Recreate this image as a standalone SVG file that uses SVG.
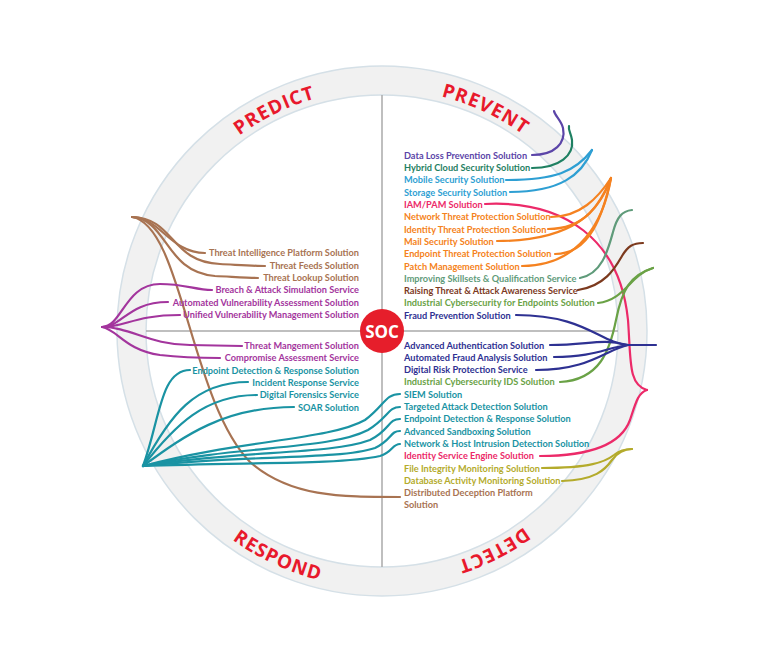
<svg xmlns="http://www.w3.org/2000/svg" width="768" height="648" viewBox="0 0 768 648">
<defs>
<style>
.lbl{font-family:Lato,"Open Sans","Liberation Sans",sans-serif;font-weight:700;font-size:9.2px}
.ph{font-family:"Open Sans","Liberation Sans",sans-serif;font-weight:700;font-size:19px;fill:#e8192c;letter-spacing:1px}
.c path{fill:none;stroke-width:2.2;stroke-linecap:round}
.br{fill:#a87352}.pu{fill:#a3359d}.te{fill:#1a93a3}.in{fill:#5b45a8}.dg{fill:#1f8062}.bl{fill:#2e9fd3}
.pk{fill:#ec2a69}.or{fill:#f58220}.sg{fill:#5f9b7a}.db{fill:#7c3a1e}.gr{fill:#6aa246}.nv{fill:#2e3192}.ol{fill:#b4ab2c}
.sbr{stroke:#a87352}.spu{stroke:#a3359d}.ste{stroke:#1a93a3}.sin{stroke:#5b45a8}.sdg{stroke:#1f8062}.sbl{stroke:#2e9fd3}
.spk{stroke:#ec2a69}.sor{stroke:#f58220}.ssg{stroke:#5f9b7a}.sdb{stroke:#7c3a1e}.sgr{stroke:#6aa246}.snv{stroke:#2e3192}.sol{stroke:#b4ab2c}
</style>
<path id="pPredict" d="M181.4,195.7 A242,242 0 0 1 398.9,89.6"/>
<path id="pPrevent" d="M360.9,89.9 A242,242 0 0 1 580.2,192.2"/>
<path id="pDetect" d="M585.0,462.8 A242,242 0 0 1 369.3,572.7"/>
<path id="pRespond" d="M172.0,479.1 A257,257 0 0 0 405.3,586.9"/>
</defs>
<rect width="768" height="648" fill="#ffffff"/>
<g id="ring">
<circle cx="382" cy="331" r="250.5" fill="none" stroke="#f1f1f1" stroke-width="29"/>
<circle cx="382" cy="331" r="265" fill="none" stroke="#d5e0e7" stroke-width="1.5"/>
<circle cx="382" cy="331" r="236" fill="none" stroke="#d5e0e7" stroke-width="1.5"/>
<line x1="382" y1="95" x2="382" y2="567" stroke="#aaaaaa" stroke-width="1.5"/>
<line x1="146" y1="331" x2="618" y2="331" stroke="#aaaaaa" stroke-width="1.5"/>
</g>
<g id="phases">
<text class="ph"><textPath href="#pPredict" startOffset="50%" text-anchor="middle">PREDICT</textPath></text>
<text class="ph"><textPath href="#pPrevent" startOffset="50%" text-anchor="middle">PREVENT</textPath></text>
<text class="ph"><textPath href="#pDetect" startOffset="50%" text-anchor="middle">DETECT</textPath></text>
<text class="ph"><textPath href="#pRespond" startOffset="50%" text-anchor="middle">RESPOND</textPath></text>
</g>
<g id="connectors" class="c">
<path class="sbr" d="M132,217 C160,217 170,253 205,253"/>
<path class="sbr" d="M132,217 C175,218 170,262 220,264 C240,265 255,266 265,266"/>
<path class="sbr" d="M132,217 C168,220 165,272 215,276 C235,277 250,278 258,278"/>
<path class="sbr" d="M132,217 C182,225 190,400 250,462 C290,497 340,497 400,497"/>
<path class="spu" d="M102,327 C122,327 125,284 160,284 C185,284 195,290 212,290"/>
<path class="spu" d="M102,327 C122,327 128,302 168,302"/>
<path class="spu" d="M102,327 C125,327 135,315 180,315"/>
<path class="spu" d="M102,327 C130,327 150,345 190,345 L242,346"/>
<path class="spu" d="M102,327 C118,330 125,350 160,355 C185,358 200,358 220,358"/>
<path class="ste" d="M143,466 C160,420 160,370 190,370"/>
<path class="ste" d="M143,466 C170,415 195,382 248,382"/>
<path class="ste" d="M143,466 C175,425 205,395 257,395"/>
<path class="ste" d="M143,466 C185,435 225,407 294,407"/>
<path class="ste" d="M143,466 C240,440 330,440 365,420 C385,405 385,394 400,394"/>
<path class="ste" d="M143,466 C240,445 330,450 368,430 C388,418 388,407 400,407"/>
<path class="ste" d="M143,466 C240,450 330,455 370,440 C390,430 388,419 400,419"/>
<path class="ste" d="M143,466 C240,455 340,460 375,448 C392,440 390,431 400,431"/>
<path class="ste" d="M143,466 C240,462 340,465 380,456 C393,452 392,444 400,444"/>
<path class="sin" d="M532,155 C555,155 566,143 563,128 C561,120 555,116 554,111"/>
<path class="sdg" d="M532,168 C560,168 574,155 572,140 C571,133 568,130 569,126"/>
<path class="sbl" d="M506,180 C555,180 575,172 592,150"/>
<path class="sbl" d="M510,192 C560,192 582,175 592,150"/>
<path class="spk" d="M485,204 C565,200 620,240 628,320 C631,360 628,385 647,390"/>
<path class="spk" d="M540,456 C595,456 622,442 630,420 C636,402 638,393 647,390"/>
<path class="sor" d="M551,217 C580,217 598,198 611,178"/>
<path class="sor" d="M548,229 C585,229 600,205 611,178"/>
<path class="sor" d="M497,241 C575,241 600,210 611,178"/>
<path class="sor" d="M555,254 C590,254 603,215 611,178"/>
<path class="sor" d="M522,266 C580,266 604,220 611,178"/>
<path class="ssg" d="M580,278 C602,274 608,250 613,232 C617,217 622,211 632,210"/>
<path class="sdb" d="M578,290 C605,286 615,268 622,256 C628,246 633,243 643,243"/>
<path class="sgr" d="M598,303 C625,300 630,275 653,268"/>
<path class="sgr" d="M560,382 C600,380 610,350 616,320 C622,290 630,275 653,268"/>
<path class="snv" d="M516,315 C585,315 600,343 628,345 L656,345"/>
<path class="snv" d="M550,345 C590,345 600,338 628,345"/>
<path class="snv" d="M554,357 C595,357 605,348 628,345"/>
<path class="snv" d="M536,370 C590,370 605,350 628,345"/>
<path class="sol" d="M542,468 C590,468 605,462 614,455 C620,450 625,449 632,449"/>
<path class="sol" d="M562,481 C595,480 605,470 612,460 C618,452 625,449 632,449"/>
</g>
<g id="soc">
<circle cx="382" cy="331" r="22" fill="#e61e2b"/>
<text x="382" y="337.5" text-anchor="middle" font-family="'Open Sans','Liberation Sans',sans-serif" font-weight="700" font-size="17" fill="#ffffff">SOC</text>
</g>
<g id="left-labels" class="lbl" text-anchor="end">
<text id="n-tip" class="br" x="359" y="256.3">Threat Intelligence Platform Solution</text>
<text id="n-tfs" class="br" x="359" y="268.6">Threat Feeds Solution</text>
<text id="n-tls" class="br" x="359" y="280.9">Threat Lookup Solution</text>
<text id="n-bas" class="pu" x="359" y="293.2">Breach &amp; Attack Simulation Service</text>
<text id="n-ava" class="pu" x="359" y="305.5">Automated Vulnerability Assessment Solution</text>
<text id="n-uvm" class="pu" x="359" y="317.8">Unified Vulnerability Management Solution</text>
<text id="n-tms" class="pu" x="359" y="349">Threat Mangement Solution</text>
<text id="n-cas" class="pu" x="359" y="361.3">Compromise Assessment Service</text>
<text id="n-edr1" class="te" x="359" y="373.6">Endpoint Detection &amp; Response Solution</text>
<text id="n-irs" class="te" x="359" y="385.9">Incident Response Service</text>
<text id="n-dfs" class="te" x="359" y="398.2">Digital Forensics Service</text>
<text id="n-soar" class="te" x="359" y="410.5">SOAR Solution</text>
</g>
<g id="right-labels" class="lbl">
<text id="n-dlp" class="in" x="404" y="158.8">Data Loss Prevention Solution</text>
<text id="n-hcs" class="dg" x="404" y="171.1">Hybrid Cloud Security Solution</text>
<text id="n-mss" class="bl" x="404" y="183.4">Mobile Security Solution</text>
<text id="n-sss" class="bl" x="404" y="195.7">Storage Security Solution</text>
<text id="n-iam" class="pk" x="404" y="208">IAM/PAM Solution</text>
<text id="n-ntp" class="or" x="404" y="220.3">Network Threat Protection Solution</text>
<text id="n-itp" class="or" x="404" y="232.6">Identity Threat Protection Solution</text>
<text id="n-mail" class="or" x="404" y="244.9">Mail Security Solution</text>
<text id="n-etp" class="or" x="404" y="257.2">Endpoint Threat Protection Solution</text>
<text id="n-pms" class="or" x="404" y="269.5">Patch Management Solution</text>
<text id="n-isq" class="sg" x="404" y="281.8">Improving Skillsets &amp; Qualification Service</text>
<text id="n-rta" class="db" x="404" y="294.1">Raising Threat &amp; Attack Awareness Service</text>
<text id="n-ice" class="gr" x="404" y="306.4">Industrial Cybersecurity for Endpoints Solution</text>
<text id="n-fps" class="nv" x="404" y="318.7">Fraud Prevention Solution</text>
<text id="n-aas" class="nv" x="404" y="348.5">Advanced Authentication Solution</text>
<text id="n-afa" class="nv" x="404" y="360.8">Automated Fraud Analysis Solution</text>
<text id="n-drp" class="nv" x="404" y="373.1">Digital Risk Protection Service</text>
<text id="n-ids" class="gr" x="404" y="385.4">Industrial Cybersecurity IDS Solution</text>
<text id="n-siem" class="te" x="404" y="397.7">SIEM Solution</text>
<text id="n-tad" class="te" x="404" y="410">Targeted Attack Detection Solution</text>
<text id="n-edr2" class="te" x="404" y="422.3">Endpoint Detection &amp; Response Solution</text>
<text id="n-asb" class="te" x="404" y="434.6">Advanced Sandboxing Solution</text>
<text id="n-nhi" class="te" x="404" y="446.9">Network &amp; Host Intrusion Detection Solution</text>
<text id="n-ise" class="pk" x="404" y="459.2">Identity Service Engine Solution</text>
<text id="n-fim" class="ol" x="404" y="471.5">File Integrity Monitoring Solution</text>
<text id="n-dam" class="ol" x="404" y="483.8">Database Activity Monitoring Solution</text>
<text id="n-ddp" class="br" x="404" y="496.1">Distributed Deception Platform<tspan x="404" y="508.4">Solution</tspan></text>
</g>
</svg>
